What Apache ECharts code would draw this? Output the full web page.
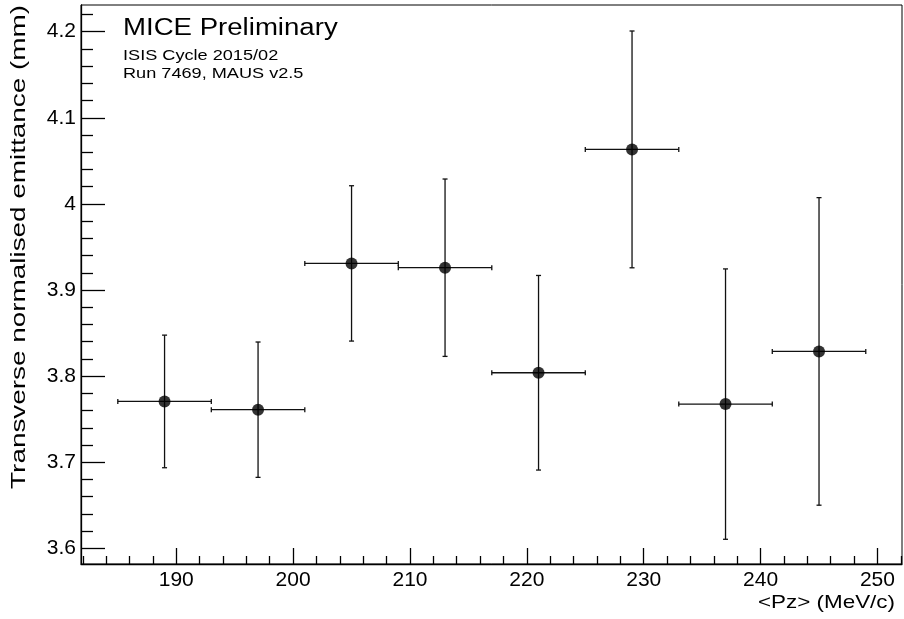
<!DOCTYPE html>
<html>
<head>
<meta charset="utf-8">
<script src="https://cdn.jsdelivr.net/npm/echarts@6/dist/echarts.min.js"></script>
<style>html,body{margin:0;padding:0;background:#fff;}#chart{width:904px;height:619px;}</style>
</head>
<body>
<div id="chart"></div>
<script>
// ---- data ----
var pz      = [189, 197, 205, 213, 221, 229, 237, 245];
var pzErr   = [4, 4, 4, 4, 4, 4, 4, 4];
var emit    = [3.7706, 3.761, 3.9309, 3.9259, 3.8039, 4.0633, 3.7675, 3.8287];
var emitErr = [0.077, 0.0786, 0.0902, 0.103, 0.113, 0.1375, 0.157, 0.1786];
var xMajorTicks = [190, 200, 210, 220, 230, 240, 250];
var xMinorTicks = [182, 184, 186, 188, 192, 194, 196, 198, 202, 204, 206, 208, 212, 214, 216, 218, 222, 224, 226, 228, 232, 234, 236, 238, 242, 244, 246, 248, 252];
var yMajorTicks = [3.6, 3.7, 3.8, 3.9, 4.0, 4.1, 4.2];
var yMinorTicks = [3.62, 3.64, 3.66, 3.68, 3.72, 3.74, 3.76, 3.78, 3.82, 3.84, 3.86, 3.88, 3.92, 3.94, 3.96, 3.98, 4.02, 4.04, 4.06, 4.08, 4.12, 4.14, 4.16, 4.18, 4.22];
var xRange = [181.85, 252.1];
var yRange = [3.5818, 4.231];
var titleText = 'MICE Preliminary';
var subText1 = 'ISIS Cycle 2015/02';
var subText2 = 'Run 7469, MAUS v2.5';
var xName = '<Pz> (MeV/c)';
var yName = 'Transverse normalised emittance (mm)';

var FONT = '"Liberation Sans", Arial, Helvetica, sans-serif';
var chart = echarts.init(document.getElementById('chart'));

var pts = pz.map(function (x, i) { return [x, emit[i], pzErr[i], emitErr[i]]; });

function txt(text, x, y, size, sx, align, rot) {
  return {
    type: 'text', x: x, y: y, rotation: rot || 0, scaleX: sx, scaleY: 1, silent: true,
    style: {
      text: text, fill: '#000', font: size + 'px ' + FONT,
      align: align, verticalAlign: 'middle',
      textAlign: align, textVerticalAlign: 'middle'
    }
  };
}

var axisCommon = {
  type: 'value', splitLine: { show: false }, axisPointer: { show: false }
};

var option = {
  animation: false,
  backgroundColor: '#fff',
  grid: { left: 81, right: 2, top: 5, bottom: 55, show: true, borderColor: '#000', borderWidth: 1, backgroundColor: 'transparent' },
  xAxis: [
    Object.assign({}, axisCommon, {
      min: xRange[0], max: xRange[1], position: 'bottom',
      axisLine: { show: true, onZero: false, lineStyle: { color: '#000', width: 1.3 } },
      axisTick: { show: true, inside: true, length: 16, customValues: xMajorTicks, lineStyle: { color: '#000', width: 1.3 } },
      axisLabel: { show: true, customValues: xMajorTicks, margin: 6, color: '#000', fontSize: 21, fontFamily: FONT,
        formatter: function (v) { return String(Math.round(v)); } }
    }),
    Object.assign({}, axisCommon, {
      min: xRange[0], max: xRange[1], position: 'bottom',
      axisLine: { show: false },
      axisTick: { show: true, inside: true, length: 8, customValues: xMinorTicks, lineStyle: { color: '#000', width: 1.3 } },
      axisLabel: { show: false }
    })
  ],
  yAxis: [
    Object.assign({}, axisCommon, {
      min: yRange[0], max: yRange[1], position: 'left',
      axisLine: { show: true, onZero: false, lineStyle: { color: '#000', width: 1.3 } },
      axisTick: { show: true, inside: true, length: 24, customValues: yMajorTicks, lineStyle: { color: '#000', width: 1.3 } },
      axisLabel: { show: true, customValues: yMajorTicks, margin: 5, color: '#000', fontSize: 21, fontFamily: FONT,
        formatter: function (v) { return String(Math.round(v * 10) / 10); } }
    }),
    Object.assign({}, axisCommon, {
      min: yRange[0], max: yRange[1], position: 'left',
      axisLine: { show: false },
      axisTick: { show: true, inside: true, length: 12, customValues: yMinorTicks, lineStyle: { color: '#000', width: 1.3 } },
      axisLabel: { show: false }
    })
  ],
  graphic: [
    txt(titleText, 123, 28.2, 23, 1.2, 'left'),
    txt(subText1, 123, 55.3, 15.5, 1.17, 'left'),
    txt(subText2, 123, 73.8, 15.5, 1.17, 'left'),
    txt(xName, 895, 602.5, 19, 1.18, 'right'),
    {
      type: 'text', x: 19, y: 5, rotation: Math.PI / 2, scaleX: 1.36, scaleY: 1, silent: true,
      style: {
        text: yName, fill: '#000', font: '20.5px ' + FONT,
        align: 'right', verticalAlign: 'middle',
        textAlign: 'right', textVerticalAlign: 'middle'
      }
    }
  ],
  series: [
    {
      type: 'custom', xAxisIndex: 0, yAxisIndex: 0, z: 3,
      data: pts,
      renderItem: function (params, api) {
        var x = api.value(0), y = api.value(1), ex = api.value(2), ey = api.value(3);
        var l = api.coord([x - ex, y]), r = api.coord([x + ex, y]);
        var t = api.coord([x, y + ey]), b = api.coord([x, y - ey]);
        var st = { stroke: '#111', lineWidth: 1.3 };
        var c = 2.5;
        return {
          type: 'group',
          children: [
            { type: 'line', shape: { x1: l[0], y1: l[1], x2: r[0], y2: r[1] }, style: st },
            { type: 'line', shape: { x1: l[0], y1: l[1] - c, x2: l[0], y2: l[1] + c }, style: st },
            { type: 'line', shape: { x1: r[0], y1: r[1] - c, x2: r[0], y2: r[1] + c }, style: st },
            { type: 'line', shape: { x1: t[0], y1: t[1], x2: b[0], y2: b[1] }, style: st },
            { type: 'line', shape: { x1: t[0] - c, y1: t[1], x2: t[0] + c, y2: t[1] }, style: st },
            { type: 'line', shape: { x1: b[0] - c, y1: b[1], x2: b[0] + c, y2: b[1] }, style: st }
          ]
        };
      }
    },
    {
      type: 'scatter', xAxisIndex: 0, yAxisIndex: 0, z: 4,
      symbol: 'circle', symbolSize: 12,
      itemStyle: { color: '#000' },
      data: pts.map(function (p) { return [p[0], p[1]]; })
    }
  ]
};
chart.setOption(option);
</script>
</body>
</html>
